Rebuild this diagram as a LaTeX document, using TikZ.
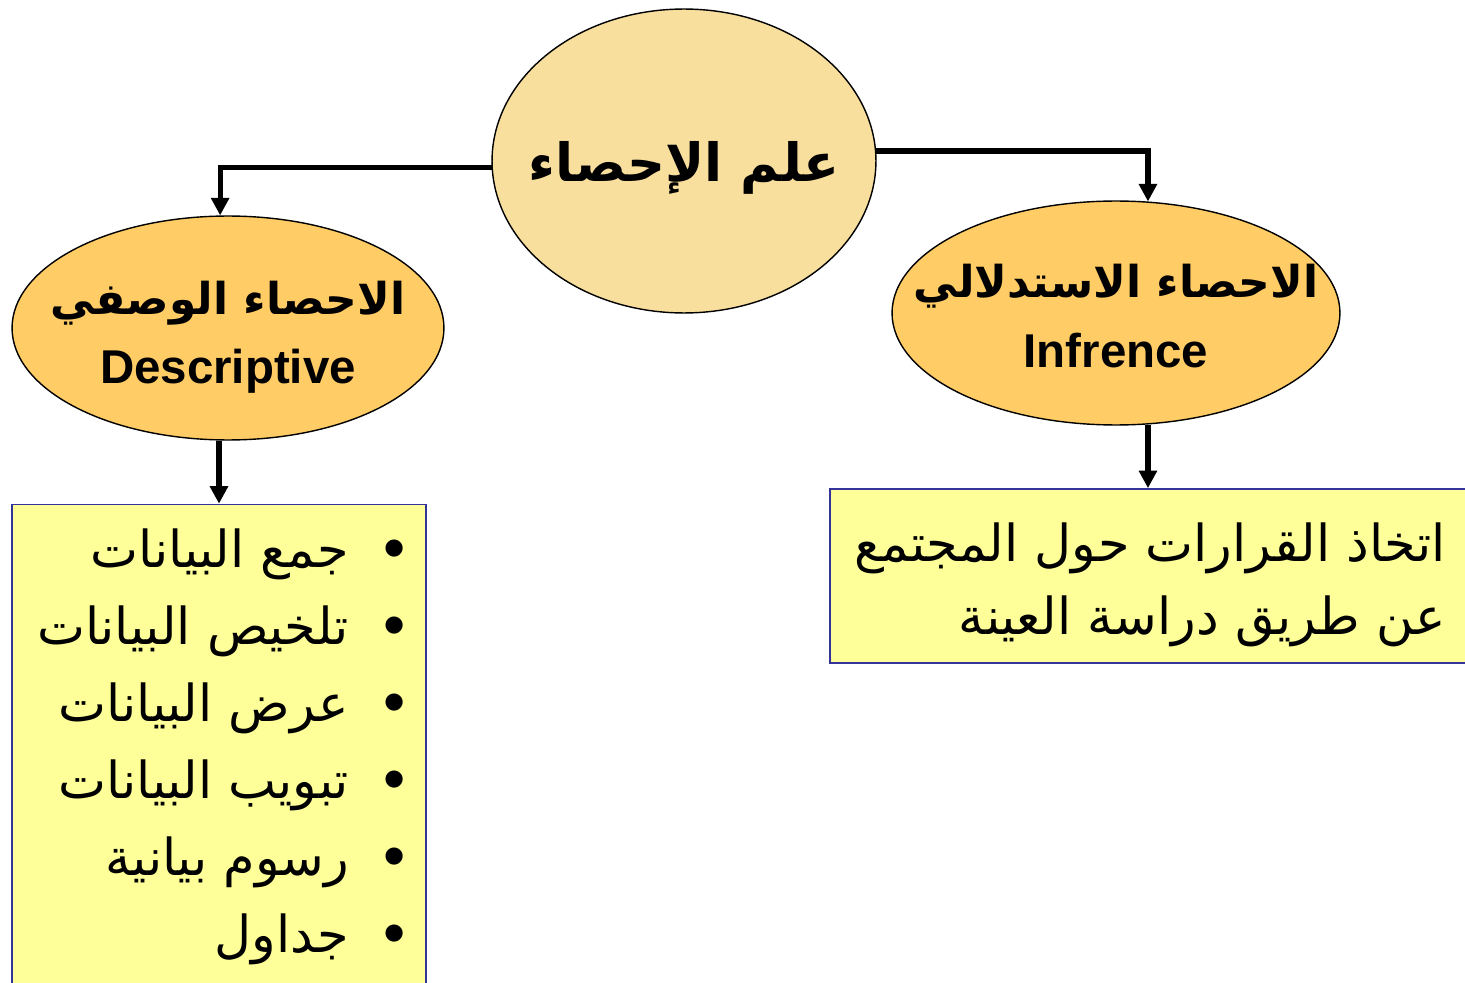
\documentclass[tikz,border=0pt]{standalone}
\usepackage{fontspec}
\usetikzlibrary{arrows.meta, positioning, shapes.geometric}
\TeXXeTstate=1
\newfontfamily\arabicfont[Script=Arabic]{DejaVu Sans}
\newfontfamily\latinfont{Liberation Sans}
\definecolor{rootfill}{HTML}{F9DF9E}
\definecolor{branchfill}{HTML}{FFCC66}
\definecolor{notefill}{HTML}{FFFF99}
\definecolor{noteframe}{HTML}{333399}

\begin{document}
\begin{tikzpicture}[
    x=0.02cm, y=-0.02cm,
    root/.style={
        ellipse,
        draw,
        line width=0.8pt,
        fill=rootfill,
        minimum width=7.68cm,
        minimum height=6.08cm,
        inner sep=0pt,
    },
    branch/.style={
        ellipse,
        draw,
        line width=0.8pt,
        fill=branchfill,
        minimum height=4.48cm,
        inner sep=0pt,
    },
    title/.style={
        anchor=base,
        font=\arabicfont\bfseries\fontsize{30}{36}\selectfont,
    },
    heading/.style={
        anchor=base,
        font=\arabicfont\bfseries\fontsize{25}{30}\selectfont,
    },
    english/.style={
        anchor=base,
        font=\latinfont\bfseries\fontsize{27}{32}\selectfont,
    },
    notebox/.style={
        draw=noteframe,
        line width=1pt,
        fill=notefill,
        inner sep=0pt,
    },
    link/.style={
        line width=3pt,
        -{Triangle[width=10pt,length=10pt]},
    },
    itemtext/.style={
        anchor=base east,
        font=\arabicfont\fontsize{29}{34}\selectfont,
    },
    bulletdot/.style={
        anchor=base,
        font=\latinfont\fontsize{36}{40}\selectfont,
    }
]
    \clip (0,0) rectangle (1465,983);

    % Ellipses
    \node[root] (stat) at (684,161) {};
    \node[branch, minimum width=8.64cm] (desc) at (228,328) {};
    \node[branch, minimum width=8.96cm] (inf) at (1116,313) {};

    % Ellipse texts
    \node[title] (stattitle) at (684,182) {\beginR علم الإحصاء\endR};
    \node[heading] (desctitle) at (228,315) {\beginR الاحصاء الوصفي\endR};
    \node[english] (descname) at (228,384) {Descriptive};
    \node[heading] (inftitle) at (1116,298) {\beginR الاحصاء الاستدلالي\endR};
    \node[english] (infname) at (1116,368) {Infrence};

    % Boxes
    \node[notebox, minimum width=8.28cm, minimum height=9.9cm] (descbox) at (219,752) {};
    \node[notebox, minimum width=13cm, minimum height=3.48cm] (infbox) at (1155,576) {};

    % Connectors
    \draw[link] (stat.182) -| (desc.94);
    \draw[link] (stat.3) -| (inf.74);
    \draw[link] (desc.south -| descbox.north) -- (descbox.north);
    \draw[link] (inf.-74) -- (inf.-74 |- infbox.north);

    % Descriptive items
    \node[itemtext] (item1) at (355,567) {\beginR جمع البيانات\endR};
    \node[itemtext] (item2) at (355,644) {\beginR تلخيص البيانات\endR};
    \node[itemtext] (item3) at (355,721) {\beginR عرض البيانات\endR};
    \node[itemtext] (item4) at (355,798) {\beginR تبويب البيانات\endR};
    \node[itemtext] (item5) at (355,875) {\beginR رسوم بيانية\endR};
    \node[itemtext] (item6) at (355,952) {\beginR جداول\endR};
    \node[bulletdot] (dot1) at (395,569) {\textbullet};
    \node[bulletdot] (dot2) at (395,646) {\textbullet};
    \node[bulletdot] (dot3) at (395,723) {\textbullet};
    \node[bulletdot] (dot4) at (395,800) {\textbullet};
    \node[bulletdot] (dot5) at (395,877) {\textbullet};
    \node[bulletdot] (dot6) at (395,954) {\textbullet};

    % Inference text
    \node[itemtext] (infline1) at (1452,561) {\beginR اتخاذ القرارات حول المجتمع\endR};
    \node[itemtext] (infline2) at (1452,634) {\beginR عن طريق دراسة العينة\endR};
\end{tikzpicture}
\end{document}
